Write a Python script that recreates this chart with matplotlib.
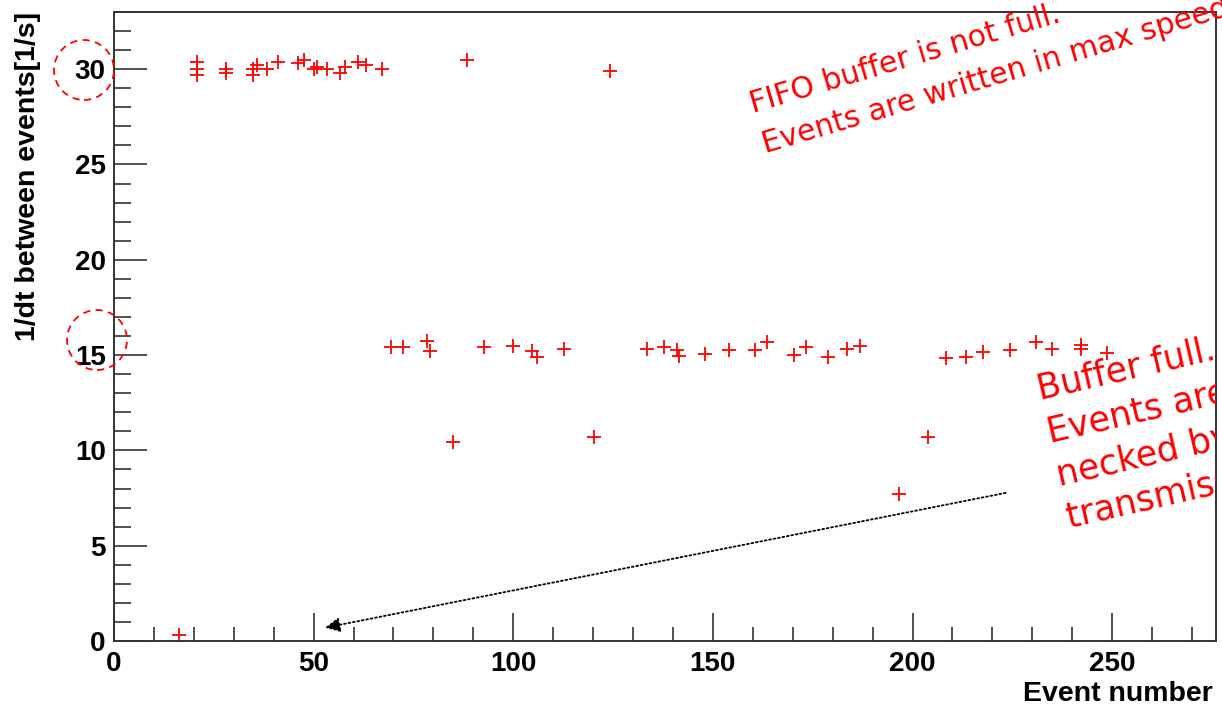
import numpy as np
import matplotlib.pyplot as plt
from matplotlib.patches import Ellipse
from matplotlib.ticker import MultipleLocator

# event number vs 1/dt
event_num = [16.4, 20.7, 20.7, 20.7, 28.0, 28.0, 34.9, 34.9, 35.8, 38.3,
             41.0, 46.2, 47.6, 50.0, 50.8, 53.3, 56.5, 57.9, 61.1, 63.2,
             67.1, 69.4, 72.5, 78.4, 79.2, 85.0, 88.4, 92.6, 99.9, 104.7,
             105.9, 112.6, 120.3, 124.1, 133.5, 137.7, 141.0, 141.4, 148.1, 154.0,
             160.5, 163.6, 170.3, 173.3, 178.9, 183.5, 186.8, 196.6, 203.8, 208.4,
             213.5, 217.7, 224.3, 230.8, 235.0, 242.3, 242.3, 248.8]
rate = [0.31, 30.4, 30.0, 29.7, 30.0, 29.8, 30.0, 29.7, 30.2, 30.0,
        30.4, 30.3, 30.5, 30.0, 30.1, 30.0, 29.8, 30.1, 30.4, 30.2,
        30.0, 15.4, 15.4, 15.75, 15.2, 10.46, 30.5, 15.4, 15.5, 15.2,
        14.9, 15.3, 10.7, 29.9, 15.3, 15.4, 15.25, 14.96, 15.05, 15.25,
        15.25, 15.7, 15.0, 15.45, 14.9, 15.3, 15.5, 7.7, 10.7, 14.85,
        14.9, 15.15, 15.25, 15.7, 15.3, 15.55, 15.3, 15.1]

arrow_start = (223.3, 7.77)
arrow_end = (52.9, 0.7)

note_fifo = ['FIFO buffer is not full.', 'Events are written in max speed']
note_full = ['Buffer full.', 'Events are bottle-', 'necked by the', 'transmission speed']

W, H = 1222, 707
fig = plt.figure(figsize=(W / 100, H / 100), dpi=100)
ax = fig.add_axes([114 / W, 1 - 641 / H, (1216 - 114) / W, (641 - 12) / H])

def px(x, y):
    # image pixel -> figure fraction
    return x / W, 1 - y / H

ax.plot(event_num, rate, '+', color='red', ms=10, mew=1.3, ls='none')

ax.set_xlim(0, 276)
ax.set_ylim(0, 33)
ax.xaxis.set_major_locator(MultipleLocator(50))
ax.xaxis.set_minor_locator(MultipleLocator(10))
ax.yaxis.set_major_locator(MultipleLocator(5))
ax.yaxis.set_minor_locator(MultipleLocator(1))
ax.tick_params(which='both', direction='in', top=False, right=False, width=1.1, color='#222222')
ax.tick_params(axis='x', which='major', length=20, pad=7)
ax.tick_params(axis='x', which='minor', length=10)
ax.tick_params(axis='y', which='major', length=24, pad=6)
ax.tick_params(axis='y', which='minor', length=12)
for lab in ax.get_xticklabels() + ax.get_yticklabels():
    lab.set_fontfamily('Liberation Sans')
    lab.set_fontweight('bold')
    lab.set_fontsize(20)
for sp in ax.spines.values():
    sp.set_linewidth(1.4)
    sp.set_color('#333333')

fig.text(*px(1213, 694), 'Event number', ha='right', va='center',
         fontsize=20.5, fontweight='bold', family='Liberation Sans')
fig.text(*px(28, 12), '1/dt between events[1/s]', ha='center', va='top', rotation=90,
         fontsize=20.5, fontweight='bold', family='Liberation Sans')

# dotted arrow
ax.annotate('', xy=arrow_end, xytext=arrow_start,
            arrowprops=dict(arrowstyle='-|>', color='black', lw=1.3,
                            ls=(0, (1, 1.5)), mutation_scale=22, shrinkA=0, shrinkB=0))

# dashed circles round the 30 and 15 labels
for cx, cy in [(84, 70), (97, 340)]:
    fig.add_artist(Ellipse(px(cx, cy), 60 / W, 60 / H, transform=fig.transFigure,
                           fill=False, ec='red', lw=1.3, ls=(0, (4, 3))))

# handwritten-style notes
ang1 = 16.5
for i, line in enumerate(note_fifo):
    x0 = 753 + i * 42 * np.sin(np.radians(ang1))
    y0 = 113 + i * 42 * np.cos(np.radians(ang1))
    fig.text(*px(x0, y0), line, color='red', fontsize=21.5, rotation=ang1,
             rotation_mode='anchor', ha='left', va='baseline')

ang2 = 13
for i, line in enumerate(note_full):
    x0 = 1040 + i * 44 * np.sin(np.radians(ang2))
    y0 = 400 + i * 44 * np.cos(np.radians(ang2))
    t = ax.text(*px(x0, y0), line, color='red', fontsize=25, rotation=ang2,
                rotation_mode='anchor', ha='left', va='baseline',
                transform=fig.transFigure, clip_on=True)
    t.set_clip_box(ax.bbox)

fig.savefig('out.png', dpi=100)
